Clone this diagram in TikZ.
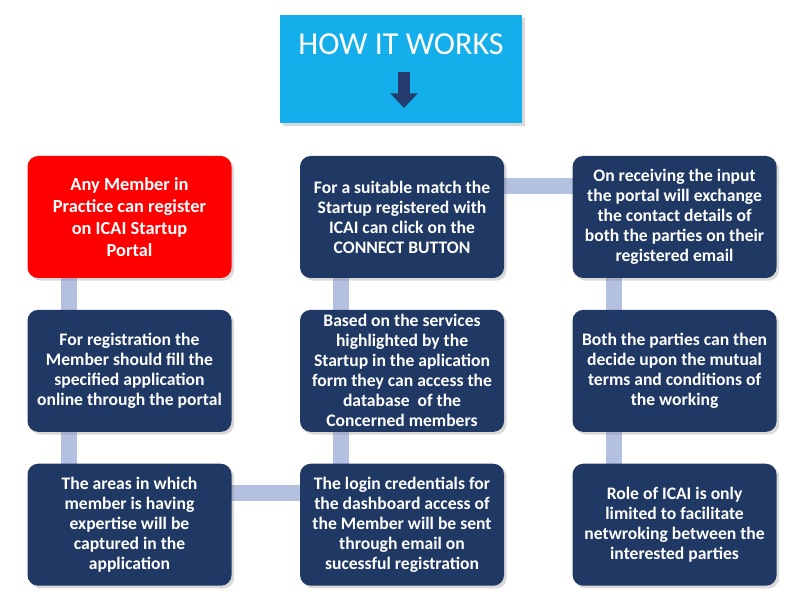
\documentclass[tikz,border=0pt]{standalone}
\usepackage{fontspec}
\setmainfont{Carlito}
\usetikzlibrary{arrows.meta,positioning,shadows,backgrounds}

\definecolor{navybox}{RGB}{31,56,100}
\definecolor{redbox}{RGB}{255,0,0}
\definecolor{skyhead}{RGB}{20,174,234}
\definecolor{linkblue}{RGB}{180,192,224}
\definecolor{arrownavy}{RGB}{36,60,110}

\begin{document}
\begin{tikzpicture}[
    x=0.75pt, y=-0.75pt,
    node distance=23.5pt and 51pt,
    stepbox/.style={fill=navybox,text=white,rounded corners=8pt,align=center,
      minimum width=153pt,minimum height=91.5pt,inner sep=2pt,
      font=\bfseries\fontsize{13.2}{15}\selectfont,
      drop shadow={opacity=0.3,shadow xshift=2pt,shadow yshift=-2pt}},
    startbox/.style={stepbox,fill=redbox,font=\bfseries\fontsize{13.8}{16.5}\selectfont},
    headbox/.style={fill=skyhead,minimum width=181.5pt,minimum height=81pt,
      drop shadow={opacity=0.3,shadow xshift=2pt,shadow yshift=-2pt}},
    link/.style={linkblue,line width=12pt},
    downarr/.style={-{Triangle[width=20pt,length=11pt]},arrownavy,line width=9pt}
]
\useasboundingbox (0,0) rectangle (800,609);

\node[headbox] (hiw) at (401,69) {};
\node[text=white,font=\fontsize{24}{28}\selectfont] (hiwtext) at (401,44) {HOW IT WORKS};
\coordinate (tail) at (404,72);
\coordinate (tip) at (404,108);
\draw[downarr] (tail) -- (tip);

\node[startbox] (a1) at (129.5,217) {Any Member in\\Practice can register\\on ICAI Startup\\Portal};
\node[stepbox,below=of a1] (a2) {For registration the\\Member should fill the\\specified application\\online through the portal};
\node[stepbox,below=of a2] (a3) {The areas in which\\member is having\\expertise will be\\captured in the\\application};

\node[stepbox,right=of a1] (b1) {For a suitable match the\\Startup registered with\\ICAI can click on the\\CONNECT BUTTON};
\node[stepbox,below=of b1] (b2) {Based on the services\\highlighted by the\\Startup in the aplication\\form they can access the\\database\ \ of the\\Concerned members};
\node[stepbox,below=of b2] (b3) {The login credentials for\\the dashboard access of\\the Member will be sent\\through email on\\sucessful registration};

\node[stepbox,right=of b1] (c1) {On receiving the input\\the portal will exchange\\the contact details of\\both the parties on their\\registered email};
\node[stepbox,below=of c1] (c2) {Both the parties can then\\decide upon the mutual\\terms and conditions of\\the working};
\node[stepbox,below=of c2] (c3) {Role of ICAI is only\\limited to facilitate\\netwroking between the\\interested parties};

\begin{scope}[on background layer]
\draw[link] ([xshift=31pt]a1.west) -- ([xshift=31pt]a3.west);
\draw[link] ([yshift=-22pt]a3.north) -- ([yshift=-22pt]b3.north);
\draw[link] ([xshift=31pt]b3.west) -- ([xshift=31pt]b1.west);
\draw[link] ([yshift=-22.5pt]b1.north) -- ([yshift=-22.5pt]c1.north);
\draw[link] ([xshift=31pt]c1.west) -- ([xshift=31pt]c3.west);
\end{scope}
\end{tikzpicture}
\end{document}
